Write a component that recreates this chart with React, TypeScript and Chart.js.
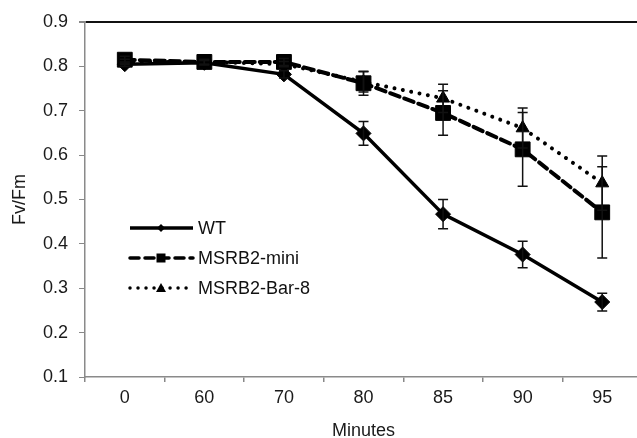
import React, { useEffect, useRef } from "react";
import { Chart, registerables } from "chart.js";

Chart.register(...registerables);

const categories = ["0", "60", "70", "80", "85", "90", "95"];
const wtValues = [0.805, 0.808, 0.782, 0.649, 0.467, 0.376, 0.269];
const wtErrors = [0.005, 0.005, 0.008, 0.027, 0.033, 0.03, 0.02];
const miniValues = [0.815, 0.81, 0.81, 0.762, 0.695, 0.613, 0.471];
const miniErrors = [0.008, 0.006, 0.008, 0.027, 0.05, 0.083, 0.103];
const barValues = [0.81, 0.81, 0.805, 0.765, 0.728, 0.661, 0.537];
const barErrors = [0.006, 0.005, 0.006, 0.023, 0.032, 0.045, 0.061];
const seriesNames = ["WT", "MSRB2-mini", "MSRB2-Bar-8"];
const yTitle = "Fv/Fm";
const xTitle = "Minutes";

const FONT = "'Liberation Sans', Arial, sans-serif";
const errorsByDataset = [wtErrors, miniErrors, barErrors];

const errorBarPlugin = {
  id: "errorBars",
  afterDatasetsDraw(chart: any) {
    const { ctx } = chart;
    const yScale = chart.scales.y;
    ctx.save();
    ctx.strokeStyle = "#111";
    ctx.lineWidth = 1.5;
    chart.data.datasets.forEach((ds: any, di: number) => {
      const meta = chart.getDatasetMeta(di);
      const errs = errorsByDataset[di];
      meta.data.forEach((pt: any, i: number) => {
        const v = ds.data[i];
        const e = errs[i];
        const yTop = yScale.getPixelForValue(v + e);
        const yBot = yScale.getPixelForValue(v - e);
        const x = pt.x;
        ctx.beginPath();
        ctx.moveTo(x, yTop);
        ctx.lineTo(x, yBot);
        ctx.moveTo(x - 5, yTop);
        ctx.lineTo(x + 5, yTop);
        ctx.moveTo(x - 5, yBot);
        ctx.lineTo(x + 5, yBot);
        ctx.stroke();
      });
    });
    ctx.restore();
  },
};

const legendPlugin = {
  id: "customLegend",
  afterDraw(chart: any) {
    const { ctx } = chart;
    const rows = [228, 258, 288];
    const x0 = 130;
    const x1 = 193;
    const xm = 161;
    ctx.save();
    ctx.fillStyle = "#000";
    ctx.strokeStyle = "#000";
    rows.forEach((y, i) => {
      ctx.beginPath();
      ctx.lineWidth = 3.5;
      ctx.lineCap = i === 0 ? "butt" : "round";
      if (i === 1) ctx.setLineDash([9, 6]);
      else if (i === 2) ctx.setLineDash([0.01, 8]);
      else ctx.setLineDash([]);
      ctx.moveTo(x0, y);
      ctx.lineTo(x1, y);
      ctx.stroke();
      ctx.setLineDash([]);
      ctx.beginPath();
      if (i === 0) {
        ctx.moveTo(xm, y - 4);
        ctx.lineTo(xm + 4, y);
        ctx.lineTo(xm, y + 4);
        ctx.lineTo(xm - 4, y);
        ctx.closePath();
      } else if (i === 1) {
        ctx.rect(xm - 4.5, y - 4.5, 9, 9);
      } else {
        ctx.moveTo(xm, y - 5);
        ctx.lineTo(xm + 5, y + 4);
        ctx.lineTo(xm - 5, y + 4);
        ctx.closePath();
      }
      ctx.fill();
      ctx.font = `18px ${FONT}`;
      ctx.textBaseline = "middle";
      ctx.textAlign = "left";
      ctx.fillStyle = "#111";
      ctx.fillText(seriesNames[i], 198, y + 1);
      ctx.fillStyle = "#000";
    });
    ctx.restore();
  },
};

export default function App() {
  const ref = useRef<HTMLCanvasElement | null>(null);

  useEffect(() => {
    document.body.style.margin = "0";
    document.body.style.background = "#fff";
    document.body.style.overflow = "hidden";
    const canvas = ref.current;
    if (!canvas) return;
    const chart = new Chart(canvas, {
      type: "line",
      data: {
        labels: categories,
        datasets: [
          {
            label: seriesNames[0],
            data: wtValues,
            borderColor: "#000",
            backgroundColor: "#000",
            borderWidth: 3.5,
            pointStyle: "rectRot",
            pointRadius: 7.5,
            pointHoverRadius: 7.5,
            pointBackgroundColor: "#000",
            pointBorderColor: "#000",
            pointBorderWidth: 1,
            tension: 0,
            order: 3,
            clip: false,
          },
          {
            label: seriesNames[1],
            data: miniValues,
            borderColor: "#000",
            backgroundColor: "#000",
            borderWidth: 4,
            borderDash: [10, 5],
            borderCapStyle: "round",
            pointStyle: "rect",
            pointRadius: 10.5,
            pointHoverRadius: 10.5,
            pointBackgroundColor: "#000",
            pointBorderColor: "#000",
            pointBorderWidth: 1,
            tension: 0,
            order: 1,
            clip: false,
          },
          {
            label: seriesNames[2],
            data: barValues,
            borderColor: "#000",
            backgroundColor: "#000",
            borderWidth: 4,
            borderDash: [0.01, 8.5],
            borderCapStyle: "round",
            pointStyle: "triangle",
            pointRadius: 7.5,
            pointHoverRadius: 7.5,
            pointBackgroundColor: "#000",
            pointBorderColor: "#000",
            pointBorderWidth: 1,
            tension: 0,
            order: 2,
            clip: false,
          },
        ],
      },
      options: {
        responsive: false,
        animation: false,
        devicePixelRatio: 1,
        layout: { autoPadding: false, padding: { top: 22, right: 0, left: 0, bottom: 0 } },
        plugins: {
          legend: { display: false },
          tooltip: { enabled: false },
          title: { display: false },
        },
        scales: {
          x: {
            type: "category",
            offset: true,
            grid: {
              offset: true,
              drawOnChartArea: false,
              color: "#888",
              tickColor: "#888",
              tickLength: 5,
              lineWidth: 1.5,
            },
            border: { color: "#8a8a8a", width: 1.5 },
            ticks: {
              font: { family: FONT, size: 18 },
              color: "#1a1a1a",
              padding: 5,
              maxRotation: 0,
            },
            title: {
              display: true,
              text: xTitle,
              font: { family: FONT, size: 18, lineHeight: 0.8 },
              color: "#1a1a1a",
              padding: { top: 0, bottom: 0 },
            },
            afterFit(axis: any) {
              axis.height = 61;
              axis.paddingLeft = 0;
              axis.paddingRight = 0;
            },
          },
          y: {
            min: 0.1,
            max: 0.9,
            grid: {
              drawOnChartArea: true,
              color: (c: any) =>
                c.tick && Math.abs(c.tick.value - 0.9) < 1e-6 ? "#111" : "rgba(0,0,0,0)",
              lineWidth: (c: any) =>
                c.tick && Math.abs(c.tick.value - 0.9) < 1e-6 ? 2 : 1,
              tickColor: "#888",
              tickLength: 6,
            },
            border: { color: "#8a8a8a", width: 1.5 },
            ticks: {
              stepSize: 0.1,
              font: { family: FONT, size: 18 },
              color: "#1a1a1a",
              padding: 11,
              callback: (v: any) => Number(v).toFixed(1),
            },
            title: {
              display: true,
              text: yTitle,
              font: { family: FONT, size: 18, lineHeight: 1.2 },
              color: "#1a1a1a",
              padding: { top: 9, bottom: 0 },
            },
            afterFit(axis: any) {
              axis.width = 85;
              axis.paddingTop = 0;
              axis.paddingBottom = 0;
            },
          },
        },
      },
      plugins: [errorBarPlugin, legendPlugin],
    } as any);
    return () => chart.destroy();
  }, []);

  return (
    <div style={{ width: 637, height: 438, overflow: "hidden", background: "#fff" }}>
      <canvas ref={ref} width={642} height={438} style={{ display: "block", width: 642, height: 438 }} />
    </div>
  );
}
